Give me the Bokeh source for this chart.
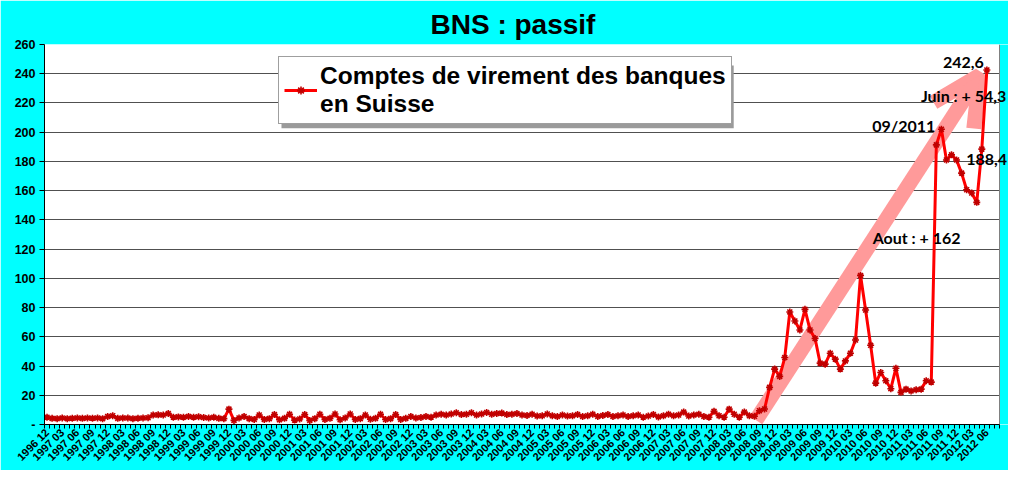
import math
from bokeh.plotting import figure
from bokeh.models import (FixedTicker, Range1d, Label, Arrow, OpenHead, Legend, LegendItem,
                          BoxAnnotation, ColumnDataSource, Span)
from bokeh.embed import file_html
from bokeh.resources import INLINE

# ---- data -------------------------------------------------------------
start_year, start_month = 1996, 12
n_categories = 189  # 1996-12 .. 2012-08 on the category axis

comptes_virement = [
    # 1996-12 .. 1997-11
    5.0, 4.2, 4.0, 4.5, 4.0, 4.3, 4.5, 4.2, 4.4, 4.3, 4.5, 4.0,
    # 1997-12 .. 1998-08
    5.5, 6.0, 4.2, 4.5, 4.4, 4.0, 4.3, 4.5, 4.6,
    # 1998-09 .. 1998-12
    6.5, 6.6, 6.5, 7.5,
    # 1999-01 .. 1999-11
    5.0, 5.2, 5.0, 5.5, 5.0, 5.3, 4.8, 4.5, 5.0, 4.2, 4.0,
    # 1999-12
    10.5,
    # 2000-01 .. 2002-12
    2.8, 4.5, 5.5, 4.0, 3.5, 6.5, 3.5, 4.0, 6.8, 3.2, 4.2, 7.0,
    3.0, 3.8, 6.8, 2.8, 4.0, 7.0, 3.5, 4.2, 7.2, 3.2, 4.5, 7.2,
    3.5, 4.0, 6.5, 3.6, 4.2, 7.0, 3.4, 4.0, 6.8, 3.5, 4.2, 5.5,
    # 2003-01 .. 2008-10
    4.5, 4.8, 5.5, 5.0, 6.5, 7.0, 6.5, 7.2, 8.0, 6.8, 7.0, 8.0,
    6.5, 7.2, 8.2, 7.0, 7.5, 7.8, 6.8, 7.0, 7.5, 6.5, 6.2, 7.0,
    5.8, 6.0, 7.2, 6.0, 5.5, 6.5, 5.8, 6.0, 6.8, 5.5, 6.0, 7.0,
    5.5, 6.2, 6.8, 5.5, 6.0, 6.5, 5.5, 6.0, 6.5, 5.0, 5.8, 6.8,
    5.2, 6.0, 7.0, 6.0, 6.5, 8.5, 5.8, 6.5, 7.0, 5.5, 5.0, 9.0,
    6.0, 5.0, 10.5, 7.0, 5.0, 8.5, 6.0, 5.6, 9.4, 10.6,
    # 2008-11 .. 2010-12
    25.4, 37.9, 32.9, 45.8, 77.0, 70.8, 64.7, 78.8, 64.7, 58.8, 42.0, 41.3,
    48.8, 44.7, 37.9, 43.5, 48.8, 57.8, 102.0, 78.3, 54.2, 28.3, 35.6, 29.9,
    24.5, 38.5,
    # 2011-01 .. 2012-06
    22.0, 24.2, 23.0, 23.8, 24.2, 29.9, 29.0, 191.3, 202.0, 181.0, 184.5, 181.0,
    172.0, 160.6, 158.4, 152.0, 188.4, 242.6,
]

y_ticks = list(range(0, 261, 20))

annotation_texts = ["242,6", "Juin : + 54,3", "09/2011", "188,4", "Aout : + 162"]
annotation_x = [186, 181.4, 177, 181.9, 172.1]
annotation_y = [242.6, 225.0, 202.0, 181.0, 128.0]

# ---- derived ------------------------------------------------------------
def month_label(k):
    m = start_month - 1 + k
    return "%d %02d" % (start_year + m // 12, m % 12 + 1)

x_idx = list(range(len(comptes_virement)))
src = ColumnDataSource(dict(x=x_idx, y=comptes_virement))

FONT = "Liberation Sans"
CYAN = "#00FFFF"
W, H = 1008, 470
LEFT, TOP, BOTTOM = 44, 44, 45
CAT_PX = (999 - LEFT) / n_categories          # width of one month category
x_end = n_categories - 0.5 + (W - 999) / CAT_PX  # frame runs to the figure edge (texts may overhang)

p = figure(width=W, height=H, output_backend="svg", toolbar_location=None,
           x_range=Range1d(-0.5, x_end), y_range=Range1d(0, 260),
           min_border_left=LEFT, min_border_right=0, min_border_top=TOP, min_border_bottom=BOTTOM,
           background_fill_color="white", border_fill_color=CYAN,
           outline_line_color=None)

p.title.text = "BNS : passif"
p.title.align = "left"
p.title.offset = 386
p.title.text_font = FONT
p.title.text_font_size = "28px"
p.title.text_font_style = "bold"
p.title.text_color = "black"

# axes
xa = p.xaxis[0]
xa.bounds = (-0.5, n_categories - 0.5)
xa.ticker = FixedTicker(ticks=list(range(0, n_categories, 3)),
                        minor_ticks=[k - 0.5 for k in range(0, n_categories + 1)])
xa.major_label_overrides = {k: month_label(k) for k in range(0, n_categories, 3)}
xa.major_label_orientation = math.pi / 4
xa.major_label_text_font = FONT
xa.major_label_text_font_size = "11px"
xa.major_label_text_font_style = "bold"
xa.major_label_text_color = "black"
xa.major_tick_line_color = None
xa.major_tick_out = 3
xa.major_tick_in = 0
xa.minor_tick_line_color = "black"
xa.minor_tick_out = 4
xa.minor_tick_in = 0
xa.axis_line_color = "black"
xa.major_label_standoff = 2

ya = p.yaxis[0]
ya.ticker = FixedTicker(ticks=y_ticks, minor_ticks=[])
ya.major_label_overrides = {0: "-"}
ya.major_label_text_font = FONT
ya.major_label_text_font_size = "12.5px"
ya.major_label_text_font_style = "bold"
ya.major_label_text_color = "black"
ya.major_tick_out = 5
ya.major_tick_in = 0
ya.major_tick_line_color = "black"
ya.axis_line_color = "black"
ya.major_label_standoff = 4

p.xgrid.grid_line_color = None
p.ygrid.grid_line_color = "#505050"
p.ygrid.grid_line_width = 1

# cyan strip right of the plot area + grey right border of the plot area
p.add_layout(BoxAnnotation(left=n_categories - 0.5, fill_color=CYAN, fill_alpha=1.0,
                           line_color=None, level="underlay"))
p.add_layout(Span(location=n_categories - 0.5, dimension="height",
                  line_color="#808080", line_width=1, level="underlay"))

# big pink arrow (underlay)
arrow = Arrow(end=OpenHead(size=48, line_width=15, line_color="#FF9A9A"),
              x_start=140.3, y_start=3.0, x_end=184.6, y_end=239.0,
              line_color="#FF9A9A", line_width=15, level="underlay")
p.add_layout(arrow)

# series
line_r = p.line("x", "y", source=src, line_color="#FF0000", line_width=3)
mark_r = p.scatter("x", "y", source=src, marker="asterisk", size=7,
                   line_color="#C00000", line_width=1.6)

# legend shadow
shadow = BoxAnnotation(left=46.4, right=135.9, top=245.7, bottom=202.7,
                       fill_color="#9A9A9A", fill_alpha=1.0, line_color=None, level="overlay")
p.add_layout(shadow)

legend = Legend(items=[LegendItem(label="Comptes de virement des banques\nen Suisse",
                                  renderers=[line_r, mark_r])],
                location=(234, 300))
legend.label_text_font = FONT
legend.label_text_font_size = "24.5px"
legend.label_text_font_style = "bold"
legend.label_text_color = "black"
legend.label_text_line_height = 0.95
legend.glyph_width = 33
legend.label_standoff = 3
legend.padding = 5
legend.margin = 0
legend.border_line_color = "#404040"
legend.border_line_width = 1
legend.background_fill_color = "white"
legend.background_fill_alpha = 1.0
legend.level = "overlay"
p.add_layout(legend, "center")

# text annotations
for txt, x, y in zip(annotation_texts, annotation_x, annotation_y):
    if txt == "242,6":
        lab = Label(x=x, y=y, text=txt, text_align="right", text_baseline="bottom",
                    x_offset=-3, y_offset=2)
    elif txt == "09/2011":
        lab = Label(x=x, y=y, text=txt, text_align="right", text_baseline="middle",
                    x_offset=-6, y_offset=4)
    elif txt == "188,4":
        lab = Label(x=x, y=y, text=txt, text_align="left", text_baseline="middle")
    else:
        lab = Label(x=x, y=y, text=txt, text_align="center", text_baseline="middle")
    lab.text_font = "Lato"
    lab.text_font_size = "16px"
    lab.text_font_style = "bold"
    lab.text_color = "black"
    lab.level = "overlay"
    p.add_layout(lab)

open("out.html", "w").write(file_html(p, INLINE))
